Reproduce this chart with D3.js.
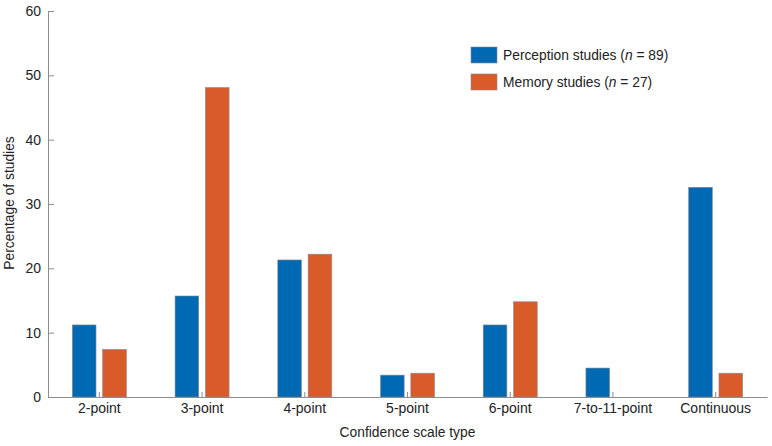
<!DOCTYPE html>
<html>
<head>
<meta charset="utf-8">
<script src="https://cdnjs.cloudflare.com/ajax/libs/d3/7.8.5/d3.min.js"></script>
<style>
    body { margin: 0; background: #fff; }
    svg { display: block; font-family: "Liberation Sans", Arial, Helvetica, sans-serif; }
    .axis path, .axis line { stroke: #8c8c8c; }
    .axis text { fill: #222; font-size: 14px; }
</style>
</head>
<body>
<div id="chart"></div>
<script>

// Data (percent of studies).
let categories = ["2-point", "3-point", "4-point", "5-point", "6-point", "7-to-11-point", "Continuous"];
let seriesNames = ["Perception studies", "Memory studies"];
let seriesN = [89, 27];
let perceptionValues = [11.2, 15.7, 21.3, 3.4, 11.2, 4.5, 32.6];
let memoryValues = [7.4, 48.1, 22.2, 3.7, 14.8, 0, 3.7];
let yTicks = [0, 10, 20, 30, 40, 50, 60];
let colors = ["#0069b4", "#d95b2a"];

let width = 772, height = 446;
let margin = {top: 11, right: 5, bottom: 49, left: 48};
let xwidth = width - margin.left - margin.right;
let yheight = height - margin.top - margin.bottom;

let svg = d3.select("#chart")
    .append("svg")
        .attr("width", width)
        .attr("height", height)
    .append("g")
        .attr("transform", "translate(" + margin.left + "," + margin.top + ")");

// Scales
let x0 = d3.scaleBand()
    .domain(categories)
    .range([0, xwidth])
    .padding(0);

let x1 = d3.scaleBand()
    .domain(seriesNames)
    .range([-27, 27])
    .paddingInner(0.22);

let y = d3.scaleLinear()
    .domain([0, 60])
    .range([yheight, 0]);

// Flatten into datapoints
let datasets = [perceptionValues, memoryValues];
let datapoints = [];
categories.forEach((c, i) => {
    seriesNames.forEach((s, j) => {
        datapoints.push({category: c, series: s, value: datasets[j][i], color: colors[j]});
    });
});

// Axes
svg.append("g")
    .attr("class", "axis")
    .attr("transform", "translate(0," + yheight + ")")
    .call(d3.axisBottom(x0).tickSize(-5).tickSizeOuter(0).tickPadding(6));

svg.append("g")
    .attr("class", "axis")
    .call(d3.axisLeft(y).tickValues(yTicks).tickSize(-6).tickSizeOuter(0).tickPadding(7));

// Bars
svg.append("g")
    .selectAll("rect")
    .data(datapoints.filter(d => d.value > 0))
    .enter().append("rect")
        .attr("x", d => x0(d.category) + x0.bandwidth() / 2 + x1(d.series))
        .attr("y", d => y(d.value))
        .attr("width", x1.bandwidth())
        .attr("height", d => yheight - y(d.value))
        .attr("fill", d => d.color)
        .attr("stroke", "#8a8a8a")
        .attr("stroke-width", 0.6);

// Axis titles
svg.append("text")
    .attr("x", xwidth / 2)
    .attr("y", yheight + 40)
    .attr("text-anchor", "middle")
    .attr("fill", "#222")
    .attr("font-size", "13.8px")
    .text("Confidence scale type");

svg.append("text")
    .attr("transform", "translate(" + (14 - margin.left) + "," + (yheight / 2 - 1) + ") rotate(-90)")
    .attr("text-anchor", "middle")
    .attr("fill", "#222")
    .attr("font-size", "13.8px")
    .text("Percentage of studies");

// Legend
let legend = svg.append("g")
    .attr("transform", "translate(" + (471 - margin.left) + "," + (47 - margin.top) + ")")
  .selectAll("g")
  .data(seriesNames)
  .enter().append("g")
    .attr("transform", (d, i) => "translate(0," + i * 27 + ")");

legend.append("rect")
    .attr("width", 26)
    .attr("height", 16)
    .attr("fill", (d, i) => colors[i])
    .attr("stroke", "#8a8a8a")
    .attr("stroke-width", 0.6);

let legendText = legend.append("text")
    .attr("x", 32)
    .attr("y", 8)
    .attr("dy", "0.35em")
    .attr("fill", "#222")
    .attr("font-size", "13.8px");

legendText.append("tspan").text(d => d + " (");
legendText.append("tspan").attr("font-style", "italic").text("n");
legendText.append("tspan").text((d, i) => " = " + seriesN[i] + ")");

</script>
</body>
</html>
